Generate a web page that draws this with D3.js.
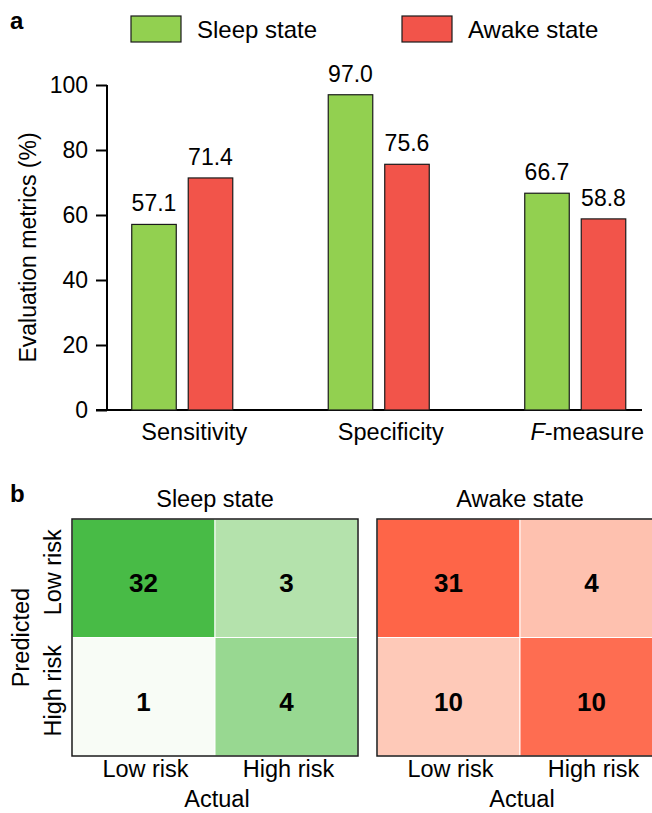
<!DOCTYPE html>
<html>
<head>
<meta charset="utf-8">
<script src="https://cdn.jsdelivr.net/npm/d3@7/dist/d3.min.js"></script>
<style>
  html, body { margin: 0; padding: 0; background: #fff; }
  svg { display: block; font-family: "Liberation Sans", Arial, sans-serif; }
</style>
</head>
<body>
<svg id="chart" width="652" height="813"></svg>
<script>
// ---- Panel a: evaluation metrics ----
const metrics = ["Sensitivity", "Specificity", "F-measure"];
const states = ["Sleep state", "Awake state"];
const sleepValues = [57.1, 97.0, 66.7];
const awakeValues = [71.4, 75.6, 58.8];
const yTicks = [0, 20, 40, 60, 80, 100];

// ---- Panel b: confusion matrices (rows = predicted, cols = actual) ----
const riskLabels = ["Low risk", "High risk"];
const sleepMatrix = [[32, 3], [1, 4]];
const awakeMatrix = [[31, 4], [10, 10]];

const barColors = { "Sleep state": "#92d050", "Awake state": "#f2544a" };
const FONT = "Liberation Sans, Arial, sans-serif";

const svg = d3.select("#chart");

// panel letters
svg.append("text").attr("x", 10).attr("y", 29).attr("font-size", 24)
  .attr("font-weight", "bold").text("a");
svg.append("text").attr("x", 10).attr("y", 502).attr("font-size", 24)
  .attr("font-weight", "bold").text("b");

// legend
const legendX = [131, 402];
states.forEach((s, i) => {
  const g = svg.append("g").attr("transform", `translate(${legendX[i]},16)`);
  g.append("rect").attr("width", 50).attr("height", 26)
    .attr("fill", barColors[s]).attr("stroke", "#1a1a1a").attr("stroke-width", 1.2);
  g.append("text").attr("x", 66).attr("y", 22).attr("font-size", 24).text(s);
});

// scales
const y = d3.scaleLinear().domain([0, 100]).range([410, 85]);
const x0 = d3.scaleBand().domain(metrics).range([84, 673.5]);
const x1 = d3.scaleBand().domain(states).range([0, x0.bandwidth()])
  .paddingInner(0.212).paddingOuter(0.845);

const rows = metrics.map((m, i) => ({
  metric: m,
  values: [
    { state: "Sleep state", value: sleepValues[i] },
    { state: "Awake state", value: awakeValues[i] }
  ]
}));

// y axis
const yAxis = svg.append("g").attr("transform", "translate(107,0)")
  .call(d3.axisLeft(y).tickValues(yTicks).tickSize(11).tickPadding(8));
yAxis.attr("font-size", null).attr("font-family", null);
yAxis.select(".domain").attr("stroke-width", 2).attr("d", `M-0,${y(100)}V${y(0)}`);
yAxis.selectAll(".tick line").attr("stroke-width", 2);
yAxis.selectAll(".tick text").style("font-size", "23px").style("font-family", FONT)
  .attr("fill", "#000");

// x baseline
svg.append("line").attr("x1", 96).attr("x2", 642).attr("y1", y(0)).attr("y2", y(0))
  .attr("stroke", "#000").attr("stroke-width", 2);

// bars
const groups = svg.append("g").selectAll("g").data(rows).join("g")
  .attr("transform", d => `translate(${x0(d.metric)},0)`);

groups.selectAll("rect").data(d => d.values).join("rect")
  .attr("x", d => x1(d.state))
  .attr("y", d => y(d.value))
  .attr("width", x1.bandwidth())
  .attr("height", d => y(0) - y(d.value))
  .attr("fill", d => barColors[d.state])
  .attr("stroke", "#1a1a1a").attr("stroke-width", 1.2);

groups.selectAll("text.val").data(d => d.values).join("text")
  .attr("class", "val")
  .attr("x", d => x1(d.state) + x1.bandwidth() / 2)
  .attr("y", d => y(d.value) - 13)
  .attr("text-anchor", "middle").attr("font-size", 23)
  .text(d => d.value.toFixed(1));

// category labels
const catLabels = svg.append("g");
metrics.forEach(m => {
  const t = catLabels.append("text")
    .attr("x", x0(m) + x0.bandwidth() / 2 + 12)
    .attr("y", 440).attr("text-anchor", "middle").attr("font-size", 23.5);
  if (m === "F-measure") {
    t.append("tspan").attr("font-style", "italic").text("F");
    t.append("tspan").text("-measure");
  } else {
    t.text(m);
  }
});

// y axis title
svg.append("text")
  .attr("transform", `translate(36,${(y(0) + y(100)) / 2}) rotate(-90)`)
  .attr("text-anchor", "middle").attr("font-size", 23)
  .text("Evaluation metrics (%)");

// ---- confusion matrices ----
// colour by share of each actual-class column
const greenScale = d3.scaleLinear().domain([0, 0.43, 1])
  .range(["#fdfefc", "#b4e2ac", "#42b940"]).interpolate(d3.interpolateRgb);
const redScale = d3.scaleLinear().domain([0, 1])
  .range(["#fef8ed", "#fe3613"]).interpolate(d3.interpolateRgb);

function drawMatrix(matrix, left, title, colorScale, showPredicted) {
  const top = 519, w = 286, h = 237;
  const cx = d3.scaleBand().domain(riskLabels).range([left, left + w]);
  const cy = d3.scaleBand().domain(riskLabels).range([top, top + h]);
  const colTotals = [0, 1].map(c => matrix[0][c] + matrix[1][c]);
  const cells = [];
  matrix.forEach((row, r) => row.forEach((v, c) => cells.push({
    pred: riskLabels[r], act: riskLabels[c], value: v, share: v / colTotals[c]
  })));

  const g = svg.append("g");
  g.selectAll("rect.cell").data(cells).join("rect")
    .attr("class", "cell")
    .attr("x", d => cx(d.act)).attr("y", d => cy(d.pred))
    .attr("width", cx.bandwidth()).attr("height", cy.bandwidth())
    .attr("fill", d => colorScale(d.share))
    .attr("stroke", "#fff").attr("stroke-width", 1);

  g.selectAll("text.num").data(cells).join("text")
    .attr("class", "num")
    .attr("x", d => cx(d.act) + cx.bandwidth() / 2)
    .attr("y", d => cy(d.pred) + cy.bandwidth() / 2 + 14)
    .attr("text-anchor", "middle").attr("font-size", 26).attr("font-weight", "bold")
    .text(d => d.value);

  g.append("rect").attr("x", left).attr("y", top).attr("width", w).attr("height", h)
    .attr("fill", "none").attr("stroke", "#1a1a1a").attr("stroke-width", 1.5);

  g.append("text").attr("x", left + w / 2).attr("y", 507)
    .attr("text-anchor", "middle").attr("font-size", 23.5).text(title);

  riskLabels.forEach(lab => {
    g.append("text").attr("x", cx(lab) + cx.bandwidth() / 2 + 2).attr("y", 777)
      .attr("text-anchor", "middle").attr("font-size", 23.5).text(lab);
  });
  g.append("text").attr("x", left + w / 2 + 2).attr("y", 807)
    .attr("text-anchor", "middle").attr("font-size", 23.5).text("Actual");

  if (showPredicted) {
    riskLabels.forEach(lab => {
      g.append("text")
        .attr("transform", `translate(61,${cy(lab) + cy.bandwidth() / 2 - 6}) rotate(-90)`)
        .attr("text-anchor", "middle").attr("font-size", 23.5).text(lab);
    });
    g.append("text")
      .attr("transform", `translate(29,${top + h / 2}) rotate(-90)`)
      .attr("text-anchor", "middle").attr("font-size", 23.5).text("Predicted");
  }
}

drawMatrix(sleepMatrix, 72, "Sleep state", greenScale, true);
drawMatrix(awakeMatrix, 377, "Awake state", redScale, false);
</script>
</body>
</html>
